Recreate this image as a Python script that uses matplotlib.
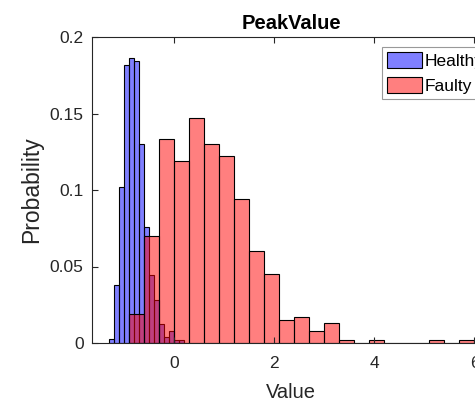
import matplotlib
matplotlib.use("Agg")
import matplotlib.pyplot as plt
import numpy as np

plt.rcParams['font.family'] = ['Liberation Sans', 'DejaVu Sans']

# Healthy histogram (bin width 0.1)
healthy_start = -1.3
healthy_width = 0.1
healthy_prob = [0.0024, 0.0379, 0.1022, 0.1819, 0.1863, 0.1843, 0.1298, 0.0756,
                0.0444, 0.0281, 0.0122, 0.0041, 0.0078, 0.0020, 0.0020]

# Faulty histogram (bin width 0.3)
faulty_start = -0.9
faulty_width = 0.3
faulty_prob = [0.0188, 0.0699, 0.1335, 0.1187, 0.1470, 0.1298, 0.1222, 0.0943,
               0.0603, 0.0449, 0.0150, 0.0168, 0.0076, 0.0133, 0.0020, 0.0,
               0.0020, 0.0, 0.0, 0.0, 0.0020, 0.0, 0.0020]

xticks = [0, 2, 4, 6]
yticks = [0, 0.05, 0.1, 0.15, 0.2]
ytick_labels = ['0', '0.05', '0.1', '0.15', '0.2']

W, H = 475, 404
fig = plt.figure(figsize=(W / 100, H / 100), dpi=100)
ax_left, ax_right, ax_top, ax_bottom = 92, 490, 37, 343
ax = fig.add_axes([ax_left / W, 1 - ax_bottom / H,
                   (ax_right - ax_left) / W, (ax_bottom - ax_top) / H])

h_left = healthy_start + healthy_width * np.arange(len(healthy_prob))
f_left = faulty_start + faulty_width * np.arange(len(faulty_prob))

ax.bar(h_left, healthy_prob, width=healthy_width, align='edge',
       color=(0, 0, 1, 0.5), edgecolor='black', linewidth=0.8, label='Healthy')
ax.bar(f_left, faulty_prob, width=faulty_width, align='edge',
       color=(1, 0, 0, 0.5), edgecolor='black', linewidth=0.8, label='Faulty')

ax.set_xlim(-1.64, 6.31)
ax.set_ylim(0, 0.2)
ax.set_xticks(xticks)
ax.set_xticklabels([str(t) for t in xticks])
ax.set_yticks(yticks)
ax.set_yticklabels(ytick_labels)

axc = (0.15, 0.15, 0.15)
for s in ax.spines.values():
    s.set_color(axc)
    s.set_linewidth(0.8)
ax.tick_params(direction='in', length=4, width=0.8, colors=axc,
               labelsize=12.5, top=True, right=True)
ax.tick_params(axis='x', pad=9)
ax.tick_params(axis='y', pad=6)

ax.set_xlabel('Value', fontsize=14.5, color=axc, labelpad=9)
ax.set_ylabel('Probability', fontsize=16.5, color=axc, labelpad=5)
ax.set_title('PeakValue', fontsize=14.5, fontweight='bold', color='black', pad=6)

leg = ax.legend(loc='upper left',
                bbox_to_anchor=((382 - ax_left) / (ax_right - ax_left),
                                (ax_bottom - 47) / (ax_bottom - ax_top)),
                fontsize=12.5, frameon=True, fancybox=False, borderpad=0.3,
                handlelength=2.0, handleheight=1.03, handletextpad=0.15,
                labelspacing=0.45, borderaxespad=0)
leg.get_frame().set_edgecolor((0.5, 0.5, 0.5))
leg.get_frame().set_linewidth(0.8)

fig.savefig('out.png', dpi=100)
